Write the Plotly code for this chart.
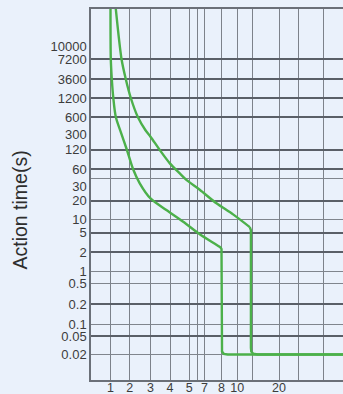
import numpy as np
import plotly.graph_objects as go

# ---- Trip characteristic: current as multiple of In, action time in seconds ----
# thermal (inverse-time) part of each band
outer_current = [1.21, 1.485, 1.73, 2.04, 2.34, 2.72, 3.0, 3.44, 3.98, 4.48, 4.85,
                 6.32, 7.69, 9.42, 11.64]
outer_time = [30000, 7200, 3600, 1200, 600, 350, 256, 118, 74, 50, 38,
              27, 18, 11.9, 6.6]
inner_current = [1.0, 1.011, 1.048, 1.106, 1.21, 1.448, 1.796, 2.13, 2.43, 3.0,
                 3.79, 4.66, 6.32, 7.88, 8.0]
inner_time = [30000, 7200, 3600, 1200, 600, 325, 120, 60, 33.5, 21.2,
              14.0, 8.7, 4.61, 2.56, 2.38]

# magnetic (instantaneous) part of each band
outer_inst_current = [11.64, 11.8, 11.8, 11.85, 12.23, 13.3, 50]
outer_inst_time = [6.6, 5.6, 0.028, 0.0232, 0.0207, 0.02, 0.02]
inner_inst_current = [8.0, 8.0, 8.06, 8.26, 8.73, 50]
inner_inst_time = [2.38, 0.028, 0.0232, 0.0207, 0.02, 0.02]

# ---- Tick labels ----
x_tick_values = [1, 2, 3, 4, 5, 7, 8, 10, 20]
y_tick_values = [10000, 7200, 3600, 1200, 600, 300, 120, 60, 30, 20, 10, 5, 2,
                 1, 0.5, 0.2, 0.1, 0.05, 0.02]

# ---- Grid divisions ----
x_grid_values = [1, 2, 3, 4, 5, 6, 7, 8, 10, 12, 20, 30, 40]
y_grid_heavy = [7200, 3600, 1200, 600, 120, 60, 20, 5, 2, 0.2, 0.05]
y_grid_light = [40, 10, 1, 0.5, 0.1, 0.02]

# ---- The printed chart uses an uneven (hand-ruled) log grid: divisions and their
#      distances along each axis; values in between are placed log-proportionally ----
X_SCALE_VALUES = [0.5, 1, 2, 3, 4, 5, 6, 7, 8, 10, 12, 20, 30, 40, 50]
X_SCALE_DIST = [0, 19.5, 38.8, 59.5, 79, 98.3, 106.3, 113.5, 130.5, 146.3,
                161.3, 188, 207.3, 232, 252]
Y_SCALE_VALUES = [0.005, 0.02, 0.05, 0.1, 0.2, 0.5, 1, 2, 5, 10, 20, 30, 60, 120,
                  300, 600, 1200, 3600, 7200, 10000, 30000]
Y_SCALE_DIST = [0, 25.5, 44, 56, 76, 97, 109, 128, 147.5, 161, 179.5, 194, 211,
                230.5, 246, 263, 282, 301, 321, 334, 371]


def xs(v):
    return np.interp(np.log10(np.asarray(v, float)), np.log10(X_SCALE_VALUES), X_SCALE_DIST)


def ys(v):
    return np.interp(np.log10(np.asarray(v, float)), np.log10(Y_SCALE_VALUES), Y_SCALE_DIST)


def fmt(v):
    return "%g" % v


GREEN = "#4cb04a"
BG = "#eaf1fb"
GRID_V = "#7d828a"
GRID_L = "#80858d"
GRID_H = "#5a5f67"
FONT = "Liberation Sans, Arial, sans-serif"

fig = go.Figure()
for cur, t in ((inner_current, inner_time), (outer_current, outer_time)):
    fig.add_trace(go.Scatter(
        x=xs(cur), y=ys(t), mode="lines",
        line=dict(color=GREEN, width=2.4, shape="spline", smoothing=0.8),
        hoverinfo="skip", showlegend=False,
    ))
for cur, t in ((inner_inst_current, inner_inst_time), (outer_inst_current, outer_inst_time)):
    fig.add_trace(go.Scatter(
        x=xs(cur), y=ys(t), mode="lines",
        line=dict(color=GREEN, width=2.4),
        hoverinfo="skip", showlegend=False,
    ))
# carrier for the heavier horizontal rules
fig.add_trace(go.Scatter(x=[], y=[], yaxis="y2", showlegend=False))

fig.update_layout(
    width=343, height=394,
    margin=dict(l=91, r=0, t=9, b=14),
    paper_bgcolor=BG, plot_bgcolor=BG,
    xaxis=dict(
        range=[0, 252], showgrid=False, zeroline=False, automargin=False,
        tickmode="array", tickvals=xs(x_tick_values),
        ticktext=[fmt(v) for v in x_tick_values],
        ticks="", ticklen=0, ticklabelstandoff=-5,
        tickfont=dict(family=FONT, size=12.5, color="#3c3c3c"),
        showline=True, linecolor="#6b7078", linewidth=1.5, mirror=True,
        minor=dict(tickmode="array", tickvals=xs(x_grid_values), showgrid=True,
                   gridcolor=GRID_V, gridwidth=1.2, ticks=""),
    ),
    yaxis=dict(
        range=[0, 371], showgrid=False, zeroline=False, automargin=False,
        tickmode="array", tickvals=ys(y_tick_values),
        ticktext=[fmt(v) for v in y_tick_values],
        ticks="", tickfont=dict(family=FONT, size=13, color="#3c3c3c"),
        showline=True, linecolor="#6b7078", linewidth=1.5,
        minor=dict(tickmode="array", tickvals=ys(y_grid_light), showgrid=True,
                   gridcolor=GRID_L, gridwidth=1.1, ticks=""),
    ),
    yaxis2=dict(
        overlaying="y", range=[0, 371], showticklabels=False, zeroline=False,
        automargin=False, tickmode="array", tickvals=ys(y_grid_heavy), ticks="",
        showgrid=True, gridcolor=GRID_H, gridwidth=1.5,
    ),
    annotations=[dict(
        text="Action time(s)", textangle=-90, showarrow=False,
        xref="paper", yref="paper", x=-0.28, y=0.458,
        xanchor="center", yanchor="middle",
        font=dict(family=FONT, size=19.5, color="#2e2e2e"),
    )],
)

fig.write_html("out.html")
